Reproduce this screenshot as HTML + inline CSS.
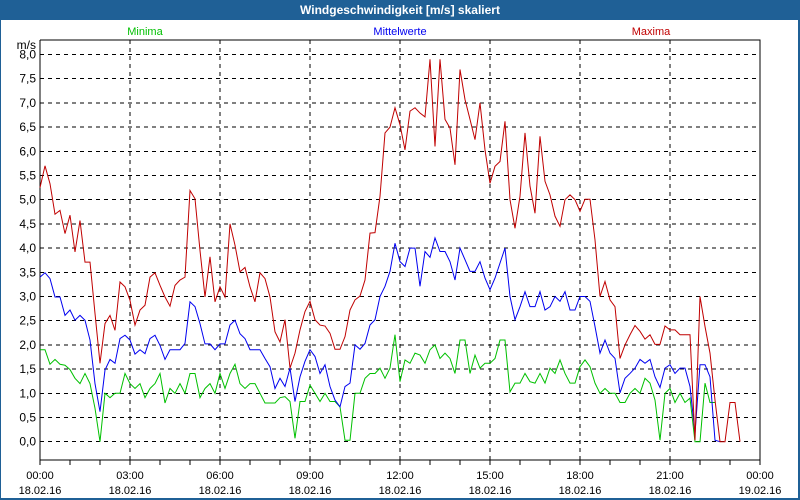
<!DOCTYPE html>
<html><head><meta charset="utf-8"><style>
body{margin:0;width:800px;height:500px;overflow:hidden;background:#fff;font-family:"Liberation Sans",sans-serif}
#frame{position:absolute;left:0;top:0;width:797px;height:497px;border:1px solid #1f6096;border-right:2px solid #1f6096;border-bottom:2px solid #1f6096;}
#title{position:absolute;left:0;top:0;width:800px;height:20px;background:#1f6096;color:#fff;font-weight:bold;font-size:12px;text-align:center;line-height:20px}
svg{position:absolute;left:0;top:0}
</style></head><body>
<div id="frame"></div>
<div id="title">Windgeschwindigkeit [m/s] skaliert</div>
<svg id="c" width="800" height="500"></svg>
<script>
const maxima=[5.25,5.7,5.33,4.7,4.78,4.3,4.68,3.92,4.57,3.71,3.71,2.65,1.62,2.44,2.61,2.3,3.3,3.2,2.92,2.41,2.72,2.82,3.4,3.49,3.23,2.99,2.8,3.23,3.34,3.4,5.19,5.02,3.95,2.99,3.82,2.89,3.2,2.99,4.5,4.06,3.51,3.6,3.2,2.89,3.49,3.37,2.99,2.27,2.06,
2.52,1.52,1.83,2.31,2.69,2.9,2.52,2.41,2.39,2.24,1.91,1.91,2.17,2.72,2.93,3.01,3.34,4.31,4.32,5.07,6.38,6.5,6.9,6.55,6.03,6.83,6.9,6.79,6.71,7.9,6.1,7.9,6.66,6.48,5.72,7.69,7.07,6.66,6.24,7.0,6.03,5.34,5.69,5.79,6.62,5.0,4.41,5.07,6.38,5.28,
4.72,6.31,5.38,5.1,4.66,4.45,5.0,5.1,5.0,4.76,5.01,5.01,4.17,3.0,3.31,2.93,2.79,1.72,2.0,2.21,2.4,2.28,2.12,2.21,2.01,2.01,2.39,2.31,2.31,2.21,2.21,2.21,0.03,3.0,2.38,1.83,0.86,0,0,0.81,0.81,0];
const mittel=[3.4,3.49,3.37,2.99,2.99,2.61,2.72,2.51,2.61,2.51,2.1,1.2,0.62,1.48,1.7,1.62,2.13,2.2,2.1,1.81,1.9,1.82,2.13,2.2,1.99,1.7,1.9,1.9,1.9,2.03,2.89,2.79,2.44,2.02,2.02,1.9,2.02,2.02,2.41,2.51,2.23,2.13,1.9,1.9,1.9,1.72,1.55,1.1,1.31,
1.14,1.52,0.83,1.34,1.66,1.9,1.76,1.41,1.59,1.14,0.86,0.72,1.14,1.21,2.0,1.91,2.03,2.41,2.52,3.0,3.21,3.52,4.1,3.72,3.62,4.0,4.0,3.21,3.93,3.81,4.21,3.93,3.93,3.72,3.34,4.0,3.76,3.52,3.52,3.72,3.38,3.14,3.38,3.69,4.0,3.0,2.52,2.79,3.1,2.79,
2.79,3.1,2.72,2.79,3.0,2.9,3.1,2.72,2.72,3.0,3.0,2.9,2.38,1.83,2.1,1.83,1.72,1.01,1.31,1.41,1.52,1.7,1.62,1.7,1.34,1.12,1.52,1.59,1.41,1.52,1.52,1.14,0.17,1.59,1.59,1.34,0.03,0];
const minima=[1.9,1.9,1.6,1.7,1.6,1.58,1.49,1.31,1.2,1.41,1.2,0.69,0,1.0,0.91,1.0,1.0,1.41,1.2,1.1,1.2,0.91,1.1,1.2,1.41,0.8,1.1,1.0,1.2,1.0,1.41,1.41,0.91,1.1,1.2,1.0,1.41,1.1,1.41,1.6,1.2,1.1,1.2,1.2,1.0,0.8,0.8,0.8,0.91,
0.93,0.83,0.07,0.83,0.83,1.17,1.0,0.83,1.0,0.83,0.83,0.72,0.03,0.03,1.0,1.0,1.31,1.41,1.41,1.52,1.31,1.52,2.21,1.24,1.69,1.62,1.83,1.79,1.62,1.9,2.0,1.72,1.83,1.72,1.41,2.1,2.1,1.41,1.79,1.52,1.62,1.62,1.72,2.1,2.1,1.03,1.21,1.21,1.41,1.24,
1.21,1.41,1.21,1.52,1.41,1.69,1.41,1.21,1.21,1.55,1.69,1.55,1.21,1.0,1.1,1.0,1.0,0.81,0.81,1.0,1.1,1.0,1.31,1.21,0.86,0.03,1.0,1.1,0.81,1.0,0.81,0.9,0,0,1.21,0.81,0.81];
const yTicks=["0,0","0,5","1,0","1,5","2,0","2,5","3,0","3,5","4,0","4,5","5,0","5,5","6,0","6,5","7,0","7,5","8,0"];
const xTimes=["00:00","03:00","06:00","09:00","12:00","15:00","18:00","21:00","00:00"];
const xDates=["18.02.16","18.02.16","18.02.16","18.02.16","18.02.16","18.02.16","18.02.16","18.02.16","19.02.16"];

const L=40,R=760,T=40,B=460;
const y=v=>441.7-v*48.4;
const x=i=>L+i*(R-L)/144;
const NS="http://www.w3.org/2000/svg";
const svg=document.getElementById('c');
function mk(tag,a,p){const e=document.createElementNS(NS,tag);for(const k in a)e.setAttribute(k,a[k]);(p||svg).appendChild(e);return e;}
yTicks.forEach((t,k)=>{const v=k*0.5;
 const g=mk('line',{x1:L,x2:R,y1:y(v),y2:y(v),stroke:'#000','stroke-dasharray':'4,4','stroke-width':1,'shape-rendering':'crispEdges'});
 
 
 const tx=mk('text',{x:36,y:y(v)+4,'text-anchor':'end','font-size':12,fill:'#000'});tx.textContent=t;
 
 
});
xTimes.forEach((t,k)=>{const xx=L+k*90;
 if(k>0&&k<8){const g=mk('line',{x1:xx,x2:xx,y1:T,y2:B,stroke:'#000','stroke-dasharray':'4,4','stroke-width':1,'shape-rendering':'crispEdges'});
 
 }
 const a=mk('text',{x:xx,y:479,'text-anchor':'middle','font-size':11,fill:'#000'});a.textContent=t;
 
 
 const b=mk('text',{x:xx,y:494,'text-anchor':'middle','font-size':11,fill:'#000'});b.textContent=xDates[k];
 
 
});
for(let h=0;h<=24;h++){const xx=L+h*30;const tk=mk('line',{x1:xx,x2:xx,y1:B,y2:B+5,stroke:'#000','shape-rendering':'crispEdges'});
 
 }
const fr=mk('polyline',{points:`${L},${T} ${R},${T} ${R},${B} ${L},${B} ${L},${T}`,fill:'none',stroke:'#000','stroke-width':1,'shape-rendering':'crispEdges'});


const u=mk('text',{x:36,y:49,'text-anchor':'end','font-size':12,fill:'#000'});u.textContent='m/s';


function series(arr,col,name){const p=mk('polyline',{points:arr.map((v,i)=>x(i)+','+y(v)).join(' '),fill:'none',stroke:col,'stroke-width':1});
 
 }
series(minima,'#00c000','minima-line');
series(mittel,'#0000f0','mittelwerte-line');
series(maxima,'#c00000','maxima-line');
[['Minima','#00c000',145,'legend-minima'],['Mittelwerte','#0000f0',400,'legend-mittelwerte'],['Maxima','#c00000',651,'legend-maxima']].forEach(d=>{
 const t=mk('text',{x:d[2],y:35,'text-anchor':'middle','font-size':11,fill:d[1]});t.textContent=d[0];
 
 
});
</script>
</body></html>
